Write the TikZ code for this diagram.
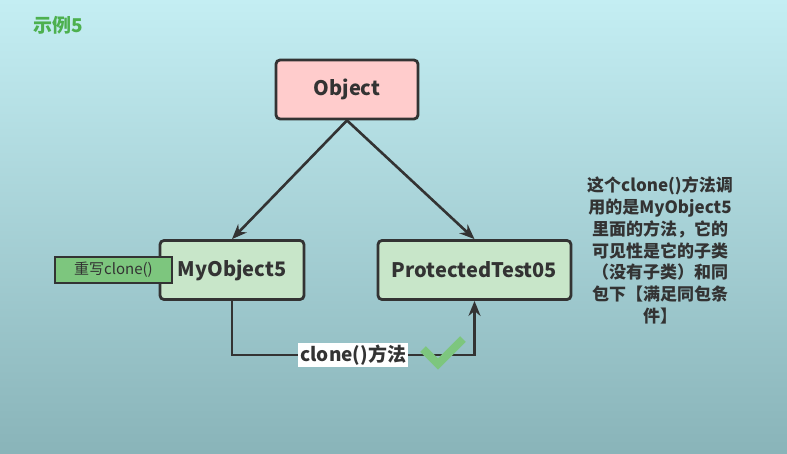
\documentclass[tikz,border=0pt]{standalone}
\usepackage{fontspec}
\setmainfont{Noto Sans CJK SC}
\usepackage{xcolor}
\usetikzlibrary{positioning,arrows.meta}
\definecolor{bgtop}{HTML}{C4EEF3}
\definecolor{bgbot}{HTML}{89B4B9}
\definecolor{pinkfill}{HTML}{FFCCCC}
\definecolor{mintfill}{HTML}{C8E6C9}
\definecolor{leaf}{HTML}{7DC67E}
\definecolor{titlegreen}{HTML}{4DB04F}
\definecolor{ink}{HTML}{333333}
\tikzstyle{cls} = [rectangle, draw=ink, line width=2.8pt, rounded corners=4pt, text=ink, font=\bfseries\fontsize{20}{24}\selectfont, minimum height=59pt]
\tikzstyle{tag} = [rectangle, draw=ink, line width=2.8pt, fill=leaf, text=ink, font=\fontsize{15}{18}\selectfont, minimum width=117pt, minimum height=26pt, inner sep=0pt]
\tikzstyle{note} = [align=center, text=ink, font=\bfseries\fontsize{17}{21.8}\selectfont]

\begin{document}
\begin{tikzpicture}[x=1pt,y=-1pt,->,>={Stealth[length=15pt,width=12pt]},draw=ink,line width=2.6pt]
  \useasboundingbox (0,0) rectangle (787,453);
  \fill[top color=bgtop, bottom color=bgbot, draw=none] (0,0) rectangle (787,453);
  \node[text=titlegreen, font=\bfseries\fontsize{19}{22}\selectfont, anchor=west] (title) at (29,25) {示例5};
  \node[cls, fill=pinkfill, minimum width=142pt] (Object) at (347,89.5) {Object};
  \node[cls, fill=mintfill, minimum width=144pt] (MyObject5) at (232,270) {MyObject5};
  \node[cls, fill=mintfill, minimum width=193pt] (Protected) at (474.5,270) {ProtectedTest05};
  \node[tag] (override) at (113.5,270) {重写clone()};
  \node[note] (remark) at (660,250.5) {这个clone()方法调\\用的是MyObject5\\里面的方法，它的\\可见性是它的子类\\（没有子类）和同\\包下【满足同包条\\件】};
  \coordinate (low) at (0,355);

  \path (Object.south) edge (MyObject5.north);
  \path (Object.south) edge (Protected.north);
  \draw (MyObject5.south) -- (MyObject5.south |- low)
    -- node[fill=white, text=ink, inner sep=2pt, font=\bfseries\fontsize{19}{22}\selectfont] (call) {clone()方法} (Protected.south |- low)
    -- (Protected.south);
  % check mark
  \draw[-, leaf, line width=8pt] (423,349) -- (438,364) -- (463,339);
\end{tikzpicture}
\end{document}
